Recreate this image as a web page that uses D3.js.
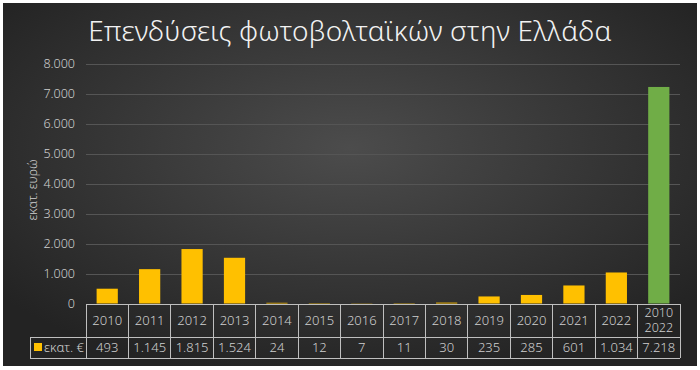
<!DOCTYPE html>
<html><head><meta charset="utf-8">
<script src="https://cdn.jsdelivr.net/npm/d3@7"></script>
<style>
html,body{margin:0;padding:0;background:#fff;}
svg{display:block;font-family:"Noto Sans","Open Sans",sans-serif;}
</style></head>
<body><svg id="c" width="700" height="370"></svg>
<script>
const title = "Επενδύσεις φωτοβολταϊκών στην Ελλάδα";
const yTitle = "εκατ. ευρώ";
const seriesName = "εκατ. €";
const categories = ["2010","2011","2012","2013","2014","2015","2016","2017","2018","2019","2020","2021","2022","2010\n2022"];
const values = [493,1145,1815,1524,24,12,7,11,30,235,285,601,1034,7218];
const yTicks = [0,1000,2000,3000,4000,5000,6000,7000,8000];
const barColors = ["#FFC000","#FFC000","#FFC000","#FFC000","#FFC000","#FFC000","#FFC000","#FFC000","#FFC000","#FFC000","#FFC000","#FFC000","#FFC000","#70AD47"];

const svg = d3.select("#c");
const defs = svg.append("defs");
const rg = defs.append("radialGradient").attr("id","bg").attr("cx","50%").attr("cy","40%").attr("r","65%");
rg.append("stop").attr("offset","0%").attr("stop-color","#4c4c4c");
rg.append("stop").attr("offset","100%").attr("stop-color","#232323");
svg.append("rect").attr("x",3).attr("y",3).attr("width",694).attr("height",363).attr("fill","url(#bg)");

const loc = d3.formatLocale({decimal:",",thousands:".",grouping:[3],currency:["","€"]});
const fmt = loc.format(",d");

const x = d3.scaleBand().domain(categories).range([86,680]).padding(0);
const y = d3.scaleLinear().domain([0,8000]).range([303.5,63.5]);
const txt = "#d0d0d0";

// gridlines
svg.append("g").selectAll("line").data(yTicks.slice(1)).join("line")
  .attr("x1",86).attr("x2",680).attr("y1",d=>Math.round(y(d))+0.5).attr("y2",d=>Math.round(y(d))+0.5)
  .attr("stroke","#555").attr("stroke-width",1);

// y axis
const ax = svg.append("g").attr("transform","translate(86,0)")
  .call(d3.axisLeft(y).tickValues(yTicks).tickFormat(fmt).tickSize(0).tickPadding(11));
ax.select(".domain").remove();
ax.selectAll("text").attr("fill",txt).attr("font-size",12.5).attr("font-family","Noto Sans, sans-serif").attr("font-weight",300);

// bars
svg.append("g").selectAll("rect").data(values).join("rect")
  .attr("x",(d,i)=>x(categories[i])+x.bandwidth()*0.25)
  .attr("width",x.bandwidth()*0.5)
  .attr("y",d=>y(d)).attr("height",d=>y(0)-y(d))
  .attr("fill",(d,i)=>barColors[i]);

// title
svg.append("text").attr("x",350).attr("y",41).attr("text-anchor","middle")
  .attr("fill","#f2f2f2").attr("font-size",28).attr("font-weight",300).attr("letter-spacing",0.2).text(title);

// y title
svg.append("text").attr("transform","translate(37,190) rotate(-90)").attr("text-anchor","middle")
  .attr("fill",txt).attr("font-size",12.5).attr("font-weight",300).text(yTitle);

// table
const tTop=304, tMid=337, tBot=358, tLeft=30;
const tl = svg.append("g").attr("stroke","#bfbfbf").attr("stroke-width",1).attr("shape-rendering","crispEdges");
tl.append("line").attr("x1",86).attr("x2",680).attr("y1",tTop).attr("y2",tTop);
tl.append("line").attr("x1",tLeft).attr("x2",680).attr("y1",tMid).attr("y2",tMid);
tl.append("line").attr("x1",tLeft).attr("x2",680).attr("y1",tBot).attr("y2",tBot);
tl.append("line").attr("x1",tLeft).attr("x2",tLeft).attr("y1",tMid).attr("y2",tBot);
const bounds = categories.map(c=>x(c)).concat([680]);
tl.selectAll("line.v").data(bounds).join("line").attr("class","v")
  .attr("x1",d=>d).attr("x2",d=>d).attr("y1",tTop).attr("y2",tBot);

// header labels
const hg = svg.append("g").attr("fill",txt).attr("font-size",13).attr("font-weight",300).attr("text-anchor","middle");
categories.forEach(c=>{
  const parts = c.split("\n");
  const cx = x(c)+x.bandwidth()/2;
  if(parts.length===1){
    hg.append("text").attr("x",cx).attr("y",(tTop+tMid)/2+4.5).text(c);
  } else {
    parts.forEach((p,i)=>hg.append("text").attr("x",cx).attr("y",tTop+12.5+i*15.5).attr("font-size",12.5).text(p));
  }
});
// values row
values.forEach((v,i)=>{
  hg.append("text").attr("x",x(categories[i])+x.bandwidth()/2).attr("y",(tMid+tBot)/2+4.5).text(fmt(v));
});
// legend key
svg.append("rect").attr("x",34).attr("y",343).attr("width",8).attr("height",8).attr("fill","#FFC000");
svg.append("text").attr("x",44).attr("y",(tMid+tBot)/2+4.5).attr("fill",txt).attr("font-size",13).attr("font-weight",300).text(seriesName);
</script></body></html>
